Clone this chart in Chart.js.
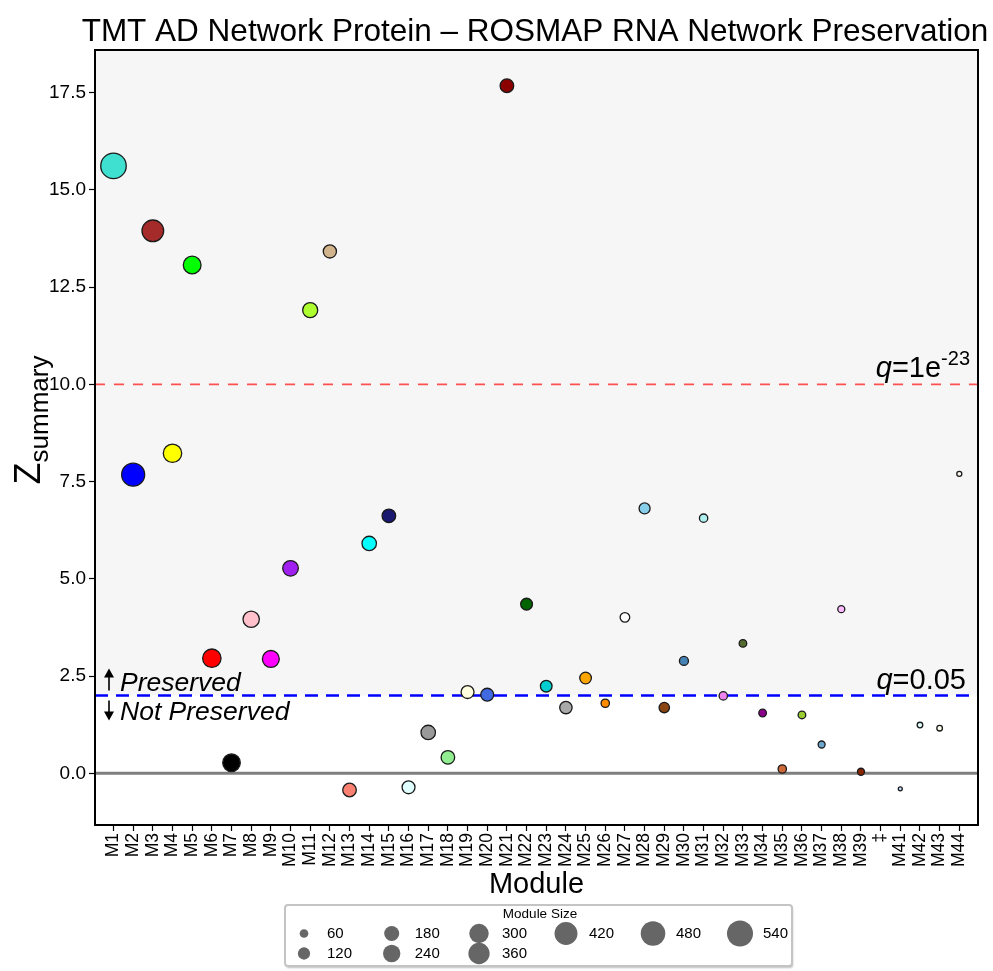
<!DOCTYPE html>
<html>
<head>
<meta charset="utf-8">
<script src="https://cdn.jsdelivr.net/npm/chart.js@4.4.0/dist/chart.umd.min.js"></script>
<style>
  html, body { margin: 0; padding: 0; background: #fff; }
</style>
</head>
<body>
<canvas id="myChart" width="993" height="971"></canvas>
<script>
// module names on the x axis (M40 is shown as a double dagger, no point)
const modules = ['M1','M2','M3','M4','M5','M6','M7','M8','M9','M10','M11','M12','M13','M14','M15',
  'M16','M17','M18','M19','M20','M21','M22','M23','M24','M25','M26','M27','M28','M29','M30',
  'M31','M32','M33','M34','M35','M36','M37','M38','M39','\u2021','M41','M42','M43','M44'];

const zSummary = [15.62, 7.68, 13.95, 8.23, 13.07, 2.96, 0.27, 3.96, 2.94, 5.27,
  11.91, 13.42, -0.43, 5.91, 6.62, -0.36, 1.05, 0.41, 2.09, 2.02,
  17.68, 4.35, 2.24, 1.69, 2.45, 1.80, 4.01, 6.81, 1.69, 2.89,
  6.56, 1.99, 3.34, 1.55, 0.11, 1.50, 0.74, 4.22, 0.04, null,
  -0.40, 1.24, 1.16, 7.70];

const moduleSizes = [560, 460, 410, 300, 280, 300, 275, 240, 255, 220,
  205, 160, 170, 190, 170, 155, 190, 170, 155, 155,
  170, 130, 127, 143, 127, 70, 90, 115, 104, 80,
  70, 70, 59, 59, 70, 59, 51, 51, 51, null,
  20, 35, 35, 29];

const moduleColors = ['#40E0D0','#0000FF','#A52A2A','#FFFF00','#00FF00','#FF0000','#000000','#FFC0CB','#FF00FF','#A020F0',
  '#ADFF2F','#D2B48C','#FA8072','#00FFFF','#191970','#E0FFFF','#999999','#90EE90','#FFFFE0','#4169E1',
  '#8B0000','#006400','#00CED1','#A9A9A9','#FFA500','#FF8C00','#FFFFFF','#87CEEB','#8B4513','#4682B4',
  '#AFEEEE','#EE82EE','#556B2F','#8B008B','#CD6839','#9ACD32','#6CA6CD','#FFBBFF','#8B2500','#8968CD',
  '#CAE1FF','#E0FFFF','#FFFFF0','#FFFAF0'];

const yTicks = [0, 2.5, 5, 7.5, 10, 12.5, 15, 17.5];
const legendSizes = [60, 120, 180, 240, 300, 360, 420, 480, 540];

const qStrict = 10;   // q = 1e-23
const qLoose = 2;     // q = 0.05

const FONT = '"Liberation Sans", Arial, Helvetica, sans-serif';
const sizeToRadius = (s) => 0.56 * Math.sqrt(s);

const overlay = {
  id: 'overlay',
  beforeDraw(chart) {
    const { ctx, chartArea: a, scales: { y } } = chart;
    ctx.save();
    ctx.fillStyle = '#ffffff';
    ctx.fillRect(a.left, a.top, a.width, a.height);
    ctx.fillStyle = '#f6f6f6';
    ctx.fillRect(a.left, a.top, a.width, y.getPixelForValue(qLoose) - a.top);
    ctx.restore();
  },
  beforeDatasetsDraw(chart) {
    const { ctx, chartArea: a, scales: { y } } = chart;
    const hline = (v, color, width, dash) => {
      const py = y.getPixelForValue(v);
      ctx.beginPath();
      ctx.strokeStyle = color;
      ctx.lineWidth = width;
      ctx.setLineDash(dash);
      ctx.moveTo(a.left, py);
      ctx.lineTo(a.right, py);
      ctx.stroke();
    };
    ctx.save();
    hline(0, '#7f7f7f', 3, []);
    hline(qStrict, '#ff5050', 1.6, [10, 9]);
    hline(qLoose, '#0000ff', 2.6, [13, 8]);
    ctx.restore();
  },
  afterDraw(chart) {
    const { ctx, chartArea: a, scales: { y } } = chart;
    ctx.save();
    // panel border
    ctx.strokeStyle = '#000';
    ctx.lineWidth = 2;
    ctx.strokeRect(a.left, a.top, a.width, a.height);

    ctx.fillStyle = '#000';
    ctx.textBaseline = 'alphabetic';

    // title
    ctx.font = '31.5px ' + FONT;
    ctx.textAlign = 'center';
    ctx.fillText('TMT AD Network Protein \u2013 ROSMAP RNA Network Preservation', 535, 41);

    // x axis title
    ctx.font = '29px ' + FONT;
    ctx.fillText('Module', (a.left + a.right) / 2, 893);

    // y axis title  Z_summary
    ctx.save();
    ctx.translate(40, 420);
    ctx.rotate(-Math.PI / 2);
    ctx.font = '36px ' + FONT;
    const zw = ctx.measureText('Z').width;
    ctx.font = '26px ' + FONT;
    const sw = ctx.measureText('summary').width;
    const start = -(zw + sw) / 2;
    ctx.textAlign = 'left';
    ctx.font = '36px ' + FONT;
    ctx.fillText('Z', start, 0);
    ctx.font = '26px ' + FONT;
    ctx.fillText('summary', start + zw, 8);
    ctx.restore();

    // threshold labels
    const drawQ = (right, py, base, sup) => {
      ctx.textAlign = 'left';
      ctx.font = '29px ' + FONT;
      const bw = ctx.measureText(base).width;
      ctx.font = '20px ' + FONT;
      const supw = sup ? ctx.measureText(sup).width : 0;
      ctx.font = 'italic 29px ' + FONT;
      const qw = ctx.measureText('q').width;
      let x = right - (qw + bw + supw);
      ctx.fillText('q', x, py);
      x += qw;
      ctx.font = '29px ' + FONT;
      ctx.fillText(base, x, py);
      x += bw;
      if (sup) {
        ctx.font = '20px ' + FONT;
        ctx.fillText(sup, x, py - 12);
      }
    };
    drawQ(970, y.getPixelForValue(qStrict) - 7, '=1e', '-23');
    drawQ(966, y.getPixelForValue(qLoose) - 7, '=0.05', null);

    // preserved / not preserved
    const py = y.getPixelForValue(qLoose);
    ctx.font = 'italic 26.5px ' + FONT;
    ctx.textAlign = 'left';
    ctx.fillText('Preserved', 120, py - 5);
    ctx.fillText('Not Preserved', 120, py + 24);
    ctx.strokeStyle = '#000';
    ctx.lineWidth = 1.6;
    ctx.setLineDash([]);
    ctx.beginPath();
    ctx.moveTo(109, py - 5); ctx.lineTo(109, py - 21);
    ctx.moveTo(109, py + 5); ctx.lineTo(109, py + 19);
    ctx.stroke();
    ctx.beginPath();
    ctx.moveTo(104, py - 18); ctx.lineTo(109, py - 27); ctx.lineTo(114, py - 18); ctx.closePath();
    ctx.moveTo(104, py + 16); ctx.lineTo(109, py + 25); ctx.lineTo(114, py + 16); ctx.closePath();
    ctx.fill();

    // size legend
    ctx.shadowColor = 'rgba(0,0,0,0.25)';
    ctx.shadowOffsetX = 1;
    ctx.shadowOffsetY = 2;
    ctx.shadowBlur = 2;
    ctx.fillStyle = '#fff';
    ctx.beginPath();
    ctx.roundRect(285, 905, 507, 61, 3);
    ctx.fill();
    ctx.shadowColor = 'transparent';
    ctx.strokeStyle = '#c4c4c4';
    ctx.lineWidth = 2;
    ctx.stroke();
    ctx.fillStyle = '#000';
    ctx.font = '13.5px ' + FONT;
    ctx.textAlign = 'center';
    ctx.fillText('Module Size', 540, 918);
    const cols = [304, 391.7, 479, 566, 653, 740];
    const rows = [933.5, 953.5];
    const slots = [[0,0],[0,1],[1,0],[1,1],[2,0],[2,1],[3,0],[4,0],[5,0]];
    ctx.textAlign = 'left';
    ctx.textBaseline = 'middle';
    legendSizes.forEach((s, i) => {
      const [c, r] = slots[i];
      ctx.fillStyle = '#666';
      ctx.beginPath();
      ctx.arc(cols[c], rows[r], sizeToRadius(s), 0, Math.PI * 2);
      ctx.fill();
      ctx.fillStyle = '#000';
      ctx.font = '15px ' + FONT;
      ctx.fillText(String(s), cols[c] + 23, rows[r]);
    });
    ctx.restore();
  }
};

new Chart(document.getElementById('myChart').getContext('2d'), {
  type: 'scatter',
  data: {
    datasets: [{
      data: modules.map((m, i) => ({ x: i + 1, y: zSummary[i] })),
      backgroundColor: moduleColors,
      borderColor: '#1a1a1a',
      borderWidth: 1.3,
      pointRadius: moduleSizes.map((s) => (s ? sizeToRadius(s) - 0.5 : 0)),
      pointHoverRadius: moduleSizes.map((s) => (s ? sizeToRadius(s) - 0.5 : 0)),
    }],
  },
  options: {
    responsive: false,
    devicePixelRatio: 1,
    animation: false,
    layout: { padding: { top: 50, right: 15, left: 0, bottom: 0 } },
    plugins: { legend: { display: false }, tooltip: { enabled: false } },
    scales: {
      x: {
        type: 'linear',
        min: 0.06,
        max: 44.95,
        afterBuildTicks: (s) => { s.ticks = modules.map((m, i) => ({ value: i + 1 })); },
        afterFit: (s) => { s.height = 146; },
        ticks: {
          autoSkip: false,
          minRotation: 90,
          maxRotation: 90,
          padding: 2,
          color: '#000',
          font: { family: FONT, size: 17.5 },
          callback: (v) => modules[v - 1],
        },
        grid: { drawOnChartArea: false, tickLength: 6, color: '#000', tickWidth: 1.2 },
        border: { color: '#000', width: 2 },
      },
      y: {
        min: -1.33,
        max: 18.6,
        afterBuildTicks: (s) => { s.ticks = yTicks.map((v) => ({ value: v })); },
        afterFit: (s) => { s.width = 95; },
        ticks: {
          padding: 3,
          color: '#000',
          font: { family: FONT, size: 19 },
          callback: (v) => v.toFixed(1),
        },
        grid: { drawOnChartArea: false, tickLength: 6, color: '#000', tickWidth: 1.2 },
        border: { color: '#000', width: 2 },
      },
    },
  },
  plugins: [overlay],
});
</script>
</body>
</html>
